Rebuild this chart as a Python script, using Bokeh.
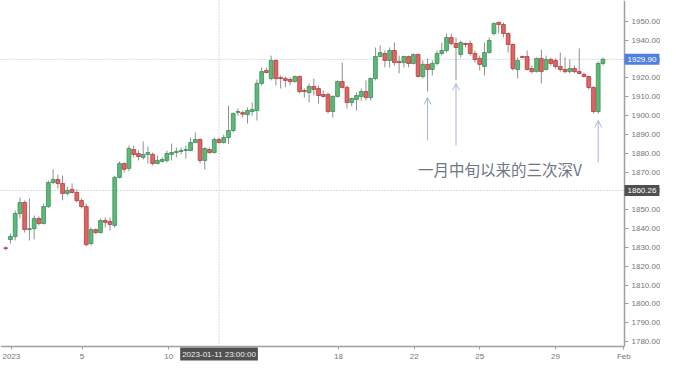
from bokeh.plotting import figure
from bokeh.models import (Range1d, FixedTicker, NumeralTickFormatter, Label,
                          Arrow, OpenHead, ColumnDataSource)
from bokeh.embed import file_html
from bokeh.resources import INLINE

# ---- data: 4-hour XAU/USD candles, Jan 2023 ----
opens = [1829.8, 1834.2, 1835.8, 1848.0, 1853.9, 1839.5, 1840.0, 1845.4, 1842.7, 1851.7,
         1864.5, 1866.1, 1864.0, 1858.7, 1860.8, 1859.2, 1854.9, 1851.7, 1832.1, 1839.5,
         1837.9, 1844.3, 1843.8, 1841.7, 1867.2, 1874.6, 1872.0, 1882.0, 1879.9, 1877.8,
         1879.4, 1879.4, 1874.6, 1875.7, 1876.2, 1879.4, 1880.4, 1881.0, 1881.5, 1881.5,
         1885.7, 1887.3, 1876.2, 1882.0, 1880.4, 1887.3, 1885.7, 1888.4, 1892.1, 1901.7,
         1901.6, 1900.6, 1902.2, 1902.7, 1917.1, 1924.0, 1919.7, 1929.3, 1920.3, 1919.7,
         1919.2, 1918.1, 1920.8, 1913.4, 1912.3, 1915.5, 1914.4, 1911.2, 1911.2, 1902.2,
         1910.2, 1918.1, 1915.0, 1907.0, 1908.6, 1910.2, 1912.8, 1909.6, 1919.7, 1931.4,
         1933.0, 1929.3, 1934.6, 1928.8, 1928.2, 1931.4, 1927.7, 1932.5, 1920.8, 1927.2,
         1924.5, 1927.7, 1933.0, 1934.6, 1941.5, 1938.3, 1932.5, 1938.3, 1938.3, 1933.0,
         1930.4, 1926.1, 1933.5, 1943.6, 1949.5, 1948.4, 1943.6, 1937.8, 1924.5, 1931.4,
         1931.4, 1925.0, 1923.4, 1930.4, 1924.5, 1929.8, 1929.3, 1926.1, 1924.5, 1923.4,
         1925.0, 1923.4, 1921.9, 1920.8, 1915.0, 1902.2, 1927.7]
highs = [1830.5, 1837.4, 1849.6, 1856.5, 1854.9, 1856.0, 1847.0, 1846.5, 1853.4, 1865.6,
         1871.4, 1868.7, 1868.2, 1862.4, 1864.0, 1860.8, 1856.0, 1853.3, 1840.6, 1840.0,
         1845.4, 1845.9, 1845.9, 1868.0, 1875.7, 1875.1, 1884.1, 1884.1, 1881.5, 1886.3,
         1883.6, 1880.4, 1878.8, 1877.8, 1881.5, 1885.2, 1883.1, 1883.1, 1884.1, 1888.4,
         1891.1, 1887.9, 1883.1, 1883.1, 1888.4, 1888.4, 1890.0, 1905.4, 1901.7, 1903.8,
         1902.7, 1904.3, 1907.0, 1919.2, 1925.6, 1925.6, 1931.9, 1929.8, 1921.3, 1920.8,
         1920.3, 1921.3, 1921.3, 1914.4, 1917.1, 1919.7, 1916.0, 1913.4, 1912.3, 1910.7,
         1918.7, 1928.2, 1916.0, 1909.6, 1912.3, 1914.4, 1918.7, 1920.3, 1936.2, 1937.3,
         1934.6, 1936.2, 1938.8, 1931.9, 1931.9, 1931.9, 1933.0, 1933.0, 1929.3, 1930.4,
         1929.3, 1934.6, 1938.8, 1943.6, 1943.6, 1941.5, 1939.9, 1938.8, 1939.9, 1934.6,
         1931.9, 1938.8, 1941.5, 1949.5, 1950.0, 1949.5, 1944.2, 1938.3, 1930.9, 1931.9,
         1934.6, 1926.6, 1930.9, 1935.1, 1931.9, 1930.9, 1930.4, 1933.5, 1930.9, 1929.8,
         1926.6, 1935.7, 1922.9, 1921.3, 1915.5, 1928.8, 1930.9]
lows = [1828.4, 1832.1, 1833.7, 1845.4, 1837.9, 1833.7, 1834.2, 1841.7, 1842.2, 1851.0,
        1863.5, 1861.3, 1855.0, 1857.6, 1858.7, 1853.9, 1850.7, 1830.5, 1831.0, 1837.0,
        1837.4, 1840.6, 1839.0, 1840.6, 1866.6, 1869.8, 1870.5, 1877.8, 1876.2, 1876.7,
        1874.6, 1873.5, 1874.1, 1875.1, 1875.1, 1876.2, 1877.8, 1879.4, 1877.2, 1881.0,
        1885.7, 1874.6, 1871.4, 1879.9, 1879.9, 1885.2, 1885.2, 1885.0, 1891.1, 1900.0,
        1899.0, 1895.8, 1900.0, 1897.4, 1916.0, 1922.4, 1918.7, 1916.0, 1914.4, 1915.0,
        1916.0, 1917.6, 1911.8, 1909.6, 1907.0, 1910.7, 1906.5, 1909.6, 1901.1, 1899.0,
        1909.6, 1914.4, 1903.8, 1904.9, 1902.7, 1908.0, 1908.0, 1908.0, 1918.7, 1930.9,
        1925.6, 1925.6, 1926.6, 1922.4, 1925.6, 1925.6, 1927.2, 1920.3, 1919.7, 1912.8,
        1921.3, 1926.6, 1931.9, 1933.5, 1937.3, 1918.7, 1930.9, 1936.2, 1931.9, 1928.2,
        1924.0, 1921.3, 1933.0, 1942.6, 1943.6, 1941.5, 1933.5, 1924.0, 1919.7, 1930.4,
        1924.0, 1922.4, 1922.9, 1917.1, 1924.0, 1926.6, 1925.0, 1923.4, 1922.4, 1922.4,
        1922.4, 1921.9, 1920.3, 1913.9, 1901.1, 1901.1, 1926.6]
closes = [1829.5, 1835.8, 1848.0, 1853.9, 1839.5, 1840.0, 1845.4, 1842.7, 1851.7, 1864.5,
          1866.1, 1864.0, 1858.7, 1860.3, 1859.2, 1854.9, 1851.7, 1831.5, 1839.5, 1837.9,
          1844.3, 1843.3, 1842.2, 1867.2, 1874.6, 1871.5, 1882.6, 1879.4, 1878.3, 1879.4,
          1880.4, 1874.6, 1876.2, 1876.7, 1879.9, 1880.4, 1881.0, 1881.5, 1882.0, 1885.7,
          1887.3, 1876.2, 1882.6, 1880.4, 1887.3, 1885.7, 1888.4, 1892.1, 1901.1, 1902.2,
          1900.8, 1902.7, 1903.2, 1917.1, 1923.4, 1922.9, 1929.3, 1919.7, 1919.7, 1918.7,
          1918.1, 1920.8, 1912.8, 1912.8, 1915.5, 1913.9, 1910.7, 1910.2, 1902.2, 1910.2,
          1918.1, 1915.0, 1907.0, 1909.1, 1910.7, 1912.8, 1909.6, 1919.7, 1931.4, 1933.5,
          1929.3, 1934.6, 1928.2, 1928.2, 1931.4, 1927.7, 1932.5, 1920.8, 1927.2, 1924.5,
          1927.7, 1933.0, 1934.6, 1941.5, 1938.3, 1936.2, 1938.8, 1937.8, 1933.0, 1929.8,
          1927.2, 1933.5, 1939.9, 1948.9, 1948.4, 1943.6, 1937.8, 1925.0, 1929.3, 1930.9,
          1924.5, 1923.4, 1930.4, 1923.4, 1929.8, 1927.7, 1926.1, 1924.5, 1923.4, 1925.0,
          1923.4, 1922.4, 1920.8, 1915.0, 1902.2, 1927.7, 1929.9]

tick_pos = [1.2, 16.1, 34.4, 70.2, 86.2, 100.0, 116.0, 130.4]
tick_labels = ["2023", "5", "10", "18", "22", "25", "29", "Feb"]
price_ticks = list(range(1780, 1960, 10))

last_price = 1929.90
cross_price = 1860.26
cross_idx = 45
cross_label = "2023-01-11 23:00:00"

note_text = "一月中旬以来的三次深V"
arrow_idx = [89, 95, 125]
arrow_tip = [1909.6, 1917.1, 1897.4]
arrow_tail = [1886.8, 1884.1, 1875.1]

# ---- layout geometry (screen) ----
W, H = 660, 361
px_per_idx = 4.74
x0 = -1.1
px_per_usd = 1.883
y_top = 1961.15
axis_px_x = 624          # where the price axis sits
axis_px_y = 346          # where the time axis sits
x_end = x0 + W / px_per_idx
y_bot = y_top - H / px_per_usd
axis_x = x0 + axis_px_x / px_per_idx
axis_y = y_top - axis_px_y / px_per_usd

GREEN_FILL, GREEN_LINE = "#5cb97a", "#3a8f57"
RED_FILL, RED_LINE = "#e06464", "#b23c3c"
AX_COL = "#a0a0a0"

idx = list(range(len(opens)))
inc = [c >= o for o, c in zip(opens, closes)]
src = ColumnDataSource(dict(
    x=idx,
    top=[max(o, c) for o, c in zip(opens, closes)],
    bottom=[min(o, c) for o, c in zip(opens, closes)],
    high=highs, low=lows,
    fill=[GREEN_FILL if i else RED_FILL for i in inc],
    line=[GREEN_LINE if i else RED_LINE for i in inc],
))

p = figure(frame_width=W, frame_height=H,
           x_range=Range1d(x0, x_end), y_range=Range1d(y_bot, y_top),
           output_backend="svg", toolbar_location=None,
           y_axis_location="right",
           min_border_left=0, min_border_top=0, min_border_right=0, min_border_bottom=0)
p.background_fill_color = "white"
p.border_fill_color = "white"
p.outline_line_color = None
p.xgrid.visible = False
p.ygrid.visible = False

# reference lines (current price, crosshair)
p.segment(x0=[x0], y0=[last_price], x1=[axis_x], y1=[last_price],
          line_color="#cfdaf2", line_width=1, line_dash="2 1")
p.segment(x0=[x0], y0=[cross_price], x1=[axis_x], y1=[cross_price],
          line_color="#b5b5b5", line_width=1, line_dash="1 2")
p.segment(x0=[cross_idx], y0=[axis_y], x1=[cross_idx], y1=[y_top],
          line_color="#b5b5b5", line_width=1, line_dash="1 2")

# candles
p.segment(x0="x", y0="low", x1="x", y1="high", line_color="#8f8f8f", line_width=1, source=src)
p.vbar(x="x", width=0.8, top="top", bottom="bottom", fill_color="fill",
       line_color="line", line_width=0.8, source=src)

# axes, pinned inside the canvas
xa = p.xaxis[0]
xa.ticker = FixedTicker(ticks=tick_pos)
xa.major_label_overrides = {t: l for t, l in zip(tick_pos, tick_labels)}
xa.fixed_location = axis_y
xa.bounds = (x0, axis_x)
ya = p.yaxis[0]
ya.ticker = FixedTicker(ticks=price_ticks)
ya.formatter = NumeralTickFormatter(format="0.00")
ya.fixed_location = axis_x
ya.bounds = (axis_y, y_top)
for ax in (xa, ya):
    ax.axis_line_color = AX_COL
    ax.axis_line_width = 1.5
    ax.major_tick_line_color = AX_COL
    ax.minor_tick_line_color = None
    ax.major_label_text_color = "#757575"
    ax.major_label_text_font = "Liberation Sans"
    ax.major_label_text_font_size = "8px"
xa.major_tick_in = 0
xa.major_tick_out = 3
xa.major_label_standoff = 2
ya.major_tick_in = 0
ya.major_tick_out = 4
ya.major_label_standoff = 3

# arrows + note
for xi, tip, tail in zip(arrow_idx, arrow_tip, arrow_tail):
    p.add_layout(Arrow(end=OpenHead(size=7, line_color="#a7b5d6", line_width=1),
                       x_start=xi, y_start=tail, x_end=xi, y_end=tip,
                       line_color="#a7b5d6", line_width=1))
p.add_layout(Label(x=87.0, y=1871.9, text=note_text, text_font="Noto Sans CJK SC",
                   text_font_size="15.5px", text_color="#6d7786",
                   text_baseline="middle", text_align="left"))

# price tags on the price axis
p.add_layout(Label(x=axis_x, y=last_price, text=f"{last_price:.2f}", text_font="Liberation Sans",
                   text_font_size="8px", text_color="white", text_baseline="middle",
                   text_align="left", background_fill_color="#4f80e0", padding=3))
p.add_layout(Label(x=axis_x, y=cross_price, text=f"{cross_price:.2f}", text_font="Liberation Sans",
                   text_font_size="8px", text_color="white", text_baseline="middle",
                   text_align="left", background_fill_color="#505050", padding=3))
# crosshair time tag on the time axis
p.add_layout(Label(x=cross_idx, y=axis_y, text=cross_label, text_font="Liberation Sans",
                   text_font_size="8px", text_color="#eeeeee", text_baseline="top",
                   text_align="center", y_offset=-1, background_fill_color="#505050",
                   padding=2))

open("out.html", "w").write(file_html(p, INLINE))
